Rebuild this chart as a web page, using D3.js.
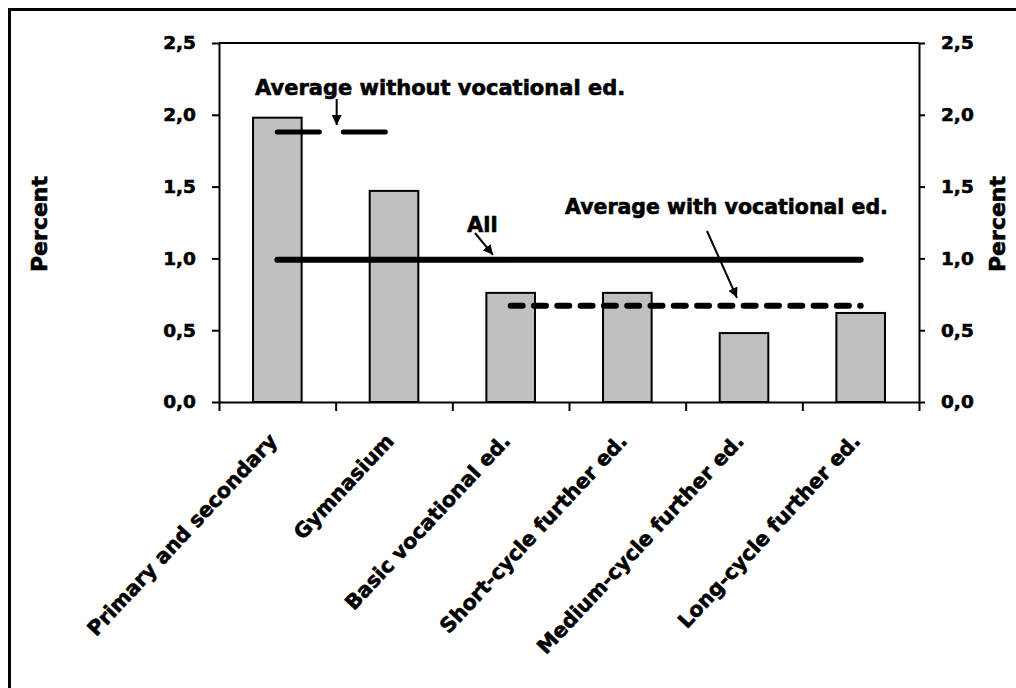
<!DOCTYPE html>
<html>
<head>
<meta charset="utf-8">
<script src="https://cdn.jsdelivr.net/npm/d3@7"></script>
<style>
  html, body { margin: 0; padding: 0; background: #fff; }
  svg { display: block; }
  text { font-family: "DejaVu Sans", Verdana, sans-serif; font-weight: bold; fill: #000; stroke: #000; stroke-width: 0.6px; }
</style>
</head>
<body>
<svg id="chart" width="1016" height="688"></svg>
<script>
// ---- data ----
const categories = ["Primary and secondary", "Gymnasium", "Basic vocational ed.",
                    "Short-cycle further ed.", "Medium-cycle further ed.", "Long-cycle further ed."];
const values = [1.98, 1.47, 0.76, 0.76, 0.48, 0.62];
const allAverage = [0.99, 0.99, 0.99, 0.99, 0.99, 0.99];
const avgWithVocational = [null, null, 0.67, 0.67, 0.67, 0.67];
const avgWithoutVocational = [1.88, 1.88, null, null, null, null];
const yTicks = [0, 0.5, 1.0, 1.5, 2.0, 2.5];
const axisTitle = "Percent";
const noteWithout = "Average without vocational ed.";
const noteAll = "All";
const noteWith = "Average with vocational ed.";

// ---- layout ----
const svg = d3.select("#chart");
const plot = { left: 219, right: 919, top: 43, bottom: 402 };

const x = d3.scaleBand().domain(categories).range([plot.left, plot.right]).paddingInner(0).paddingOuter(0);
const xEdge = d3.scaleLinear().domain([0, categories.length]).range([plot.left, plot.right]);
const y = d3.scaleLinear().domain([0, 2.5]).range([plot.bottom, plot.top]);
const fmt = d => d.toFixed(1).replace(".", ",");
const cx = c => x(c) + x.bandwidth() / 2;

// outer chart border (extends past the picture on right/bottom)
svg.append("rect").attr("x", 9.5).attr("y", 9.5).attr("width", 1100).attr("height", 800)
  .attr("fill", "none").attr("stroke", "#000").attr("stroke-width", 3);

// bars
const barW = x.bandwidth() / 2.4;
svg.append("g").selectAll("rect").data(values).join("rect")
  .attr("x", (d, i) => cx(categories[i]) - barW / 2)
  .attr("y", d => y(d))
  .attr("width", barW)
  .attr("height", d => y(0) - y(d))
  .attr("fill", "#C0C0C0").attr("stroke", "#000").attr("stroke-width", 2);

// plot area top border
svg.append("line").attr("x1", plot.left).attr("x2", plot.right).attr("y1", plot.top).attr("y2", plot.top)
  .attr("stroke", "#000").attr("stroke-width", 2);

// axes
const styleAxis = g => {
  g.select(".domain").attr("stroke", "#000").attr("stroke-width", 2);
  g.selectAll(".tick line").attr("stroke", "#000").attr("stroke-width", 2);
  g.selectAll(".tick text").style("font-size", "18.5px").style("font-family", '"DejaVu Sans", Verdana, sans-serif')
    .style("font-weight", "bold").style("stroke", "#000").style("stroke-width", "0.6px");
};
svg.append("g").attr("transform", `translate(${plot.left},0)`)
  .call(d3.axisLeft(y).tickValues(yTicks).tickFormat(fmt).tickSize(7).tickSizeOuter(0).tickPadding(16))
  .call(styleAxis);
svg.append("g").attr("transform", `translate(${plot.right},0)`)
  .call(d3.axisRight(y).tickValues(yTicks).tickFormat(fmt).tickSize(6).tickSizeOuter(0).tickPadding(16))
  .call(styleAxis);
svg.append("g").attr("transform", `translate(0,${plot.bottom})`)
  .call(d3.axisBottom(xEdge).tickValues(d3.range(categories.length + 1)).tickFormat("").tickSize(9).tickSizeOuter(0))
  .call(styleAxis);

// category labels
svg.append("g").selectAll("text").data(categories).join("text")
  .attr("transform", d => `translate(${cx(d) + 1},${plot.bottom + 40}) rotate(-47)`)
  .attr("text-anchor", "end")
  .style("font-size", "20.5px")
  .text(d => d);

// axis titles
svg.append("text").attr("transform", `translate(47,224) rotate(-90)`)
  .attr("text-anchor", "middle").style("font-size", "22px").text(axisTitle);
svg.append("text").attr("transform", `translate(1005,224) rotate(-90)`)
  .attr("text-anchor", "middle").style("font-size", "22px").text(axisTitle);

// lines
const line = d3.line().defined(d => d != null)
  .x((d, i) => cx(categories[i])).y(d => y(d));
svg.append("path").datum(allAverage).attr("d", line)
  .attr("fill", "none").attr("stroke", "#000").attr("stroke-width", 6).attr("stroke-linecap", "round");
svg.append("path").datum(avgWithVocational).attr("d", line)
  .attr("fill", "none").attr("stroke", "#000").attr("stroke-width", 6).attr("stroke-linecap", "round")
  .attr("stroke-dasharray", "12,11.3");
svg.append("path").datum(avgWithoutVocational).attr("d", line)
  .attr("fill", "none").attr("stroke", "#000").attr("stroke-width", 5).attr("stroke-linecap", "round")
  .attr("stroke-dasharray", "42,24");

// arrow marker
svg.append("defs").append("marker")
  .attr("id", "arrow").attr("viewBox", "0 0 10 10").attr("refX", 10).attr("refY", 5)
  .attr("markerWidth", 5).attr("markerHeight", 5).attr("orient", "auto").attr("markerUnits", "strokeWidth")
  .append("path").attr("d", "M0,0 L10,5 L0,10 Z").attr("fill", "#000");

const arrow = (x1, y1, x2, y2) => svg.append("line")
  .attr("x1", x1).attr("y1", y1).attr("x2", x2).attr("y2", y2)
  .attr("stroke", "#000").attr("stroke-width", 2).attr("marker-end", "url(#arrow)");

// annotations
svg.append("text").attr("x", 255).attr("y", 95).style("font-size", "21px").text(noteWithout);
arrow(xEdge(1) + 1, 99, xEdge(1) + 1, y(avgWithoutVocational[0]) - 7);

svg.append("text").attr("x", 467).attr("y", 232).style("font-size", "21px").text(noteAll);
arrow(475, 233, 493, y(allAverage[0]) - 5);

svg.append("text").attr("x", 565).attr("y", 214).style("font-size", "20.5px").text(noteWith);
arrow(707, 231, 737, y(avgWithVocational[2]) - 8);
</script>
</body>
</html>
